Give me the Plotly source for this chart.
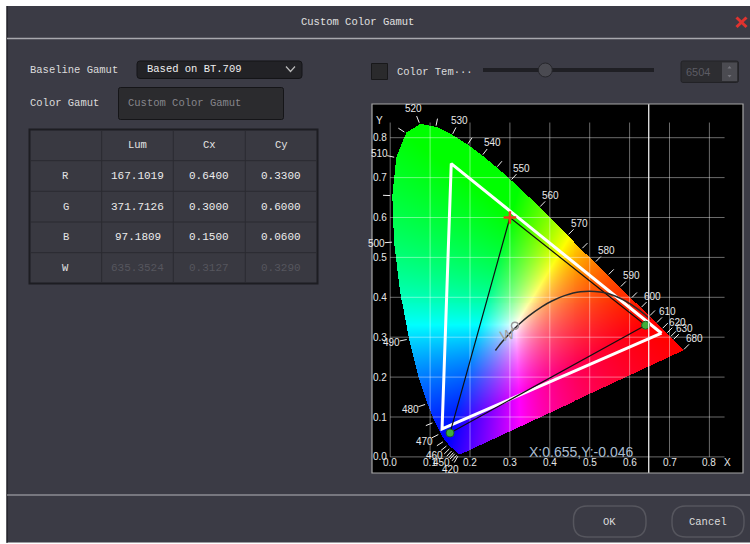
import numpy as np
import plotly.graph_objects as go

# ---------------- data ----------------
wavelengths = list(range(380, 705, 5))
locus_x = [0.1741, 0.1740, 0.1738, 0.1736, 0.1733, 0.1730, 0.1726, 0.1721, 0.1714, 0.1703,
           0.1689, 0.1669, 0.1644, 0.1611, 0.1566, 0.1510, 0.1440, 0.1355, 0.1241, 0.1096,
           0.0913, 0.0687, 0.0454, 0.0235, 0.0082, 0.0039, 0.0139, 0.0389, 0.0743, 0.1142,
           0.1547, 0.1929, 0.2296, 0.2658, 0.3016, 0.3373, 0.3731, 0.4087, 0.4441, 0.4788,
           0.5125, 0.5448, 0.5752, 0.6029, 0.6270, 0.6482, 0.6658, 0.6801, 0.6915, 0.7006,
           0.7079, 0.7140, 0.7190, 0.7230, 0.7260, 0.7283, 0.7300, 0.7311, 0.7320, 0.7327,
           0.7334, 0.7340, 0.7344, 0.7346, 0.7347]
locus_y = [0.0050, 0.0050, 0.0049, 0.0049, 0.0048, 0.0048, 0.0048, 0.0048, 0.0051, 0.0058,
           0.0069, 0.0086, 0.0109, 0.0138, 0.0177, 0.0227, 0.0297, 0.0399, 0.0578, 0.0868,
           0.1327, 0.2007, 0.2950, 0.4127, 0.5384, 0.6548, 0.7502, 0.8120, 0.8338, 0.8262,
           0.8059, 0.7816, 0.7543, 0.7243, 0.6923, 0.6589, 0.6245, 0.5896, 0.5547, 0.5202,
           0.4866, 0.4544, 0.4242, 0.3965, 0.3725, 0.3514, 0.3340, 0.3197, 0.3083, 0.2993,
           0.2920, 0.2859, 0.2809, 0.2770, 0.2740, 0.2717, 0.2700, 0.2689, 0.2680, 0.2673,
           0.2666, 0.2660, 0.2656, 0.2654, 0.2653]

label_wl = [420, 450, 460, 470, 480, 490, 500, 510, 520, 530, 540, 550, 560,
            570, 580, 590, 600, 610, 620, 630, 680]
tick_wl = [420, 430, 440, 445, 450, 455, 460, 465, 470, 475, 480, 490, 500, 505, 510, 515,
           520, 525, 530, 535, 540, 545, 550, 560, 570, 575, 580, 585, 590, 595,
           600, 605, 610, 615, 620, 625, 630, 680]

planck_x = [0.2637, 0.2719, 0.2807, 0.2952, 0.3064, 0.3135, 0.3221, 0.3451, 0.3805,
            0.4053, 0.4369, 0.4770, 0.5267, 0.5498, 0.5857, 0.6251, 0.6528]
planck_y = [0.2666, 0.2776, 0.2884, 0.3048, 0.3166, 0.3236, 0.3318, 0.3516, 0.3768,
            0.3907, 0.4041, 0.4137, 0.4133, 0.4081, 0.3931, 0.3674, 0.3444]

prim_names = ["R", "G", "B"]
target_x = [0.6400, 0.3000, 0.1500]
target_y = [0.3300, 0.6000, 0.0600]
panel_x = [0.680, 0.153, 0.130]
panel_y = [0.310, 0.735, 0.070]
white_x, white_y = 0.3127, 0.3290
cursor_x = 0.648
cursor_text = "X:0.655,Y:-0.046"

axis_ticks = [0.0, 0.1, 0.2, 0.3, 0.4, 0.5, 0.6, 0.7, 0.8]
axis_tick_labels = ["0.0", "0.1", "0.2", "0.3", "0.4", "0.5", "0.6", "0.7", "0.8"]

table_rows = ["R", "G", "B", "W"]
table_cols = ["Lum", "Cx", "Cy"]
lum_vals = ["167.1019", "371.7126", "97.1809", "635.3524"]
cx_vals = ["0.6400", "0.3000", "0.1500", "0.3127"]
cy_vals = ["0.3300", "0.6000", "0.0600", "0.3290"]

baseline_option = "Based on BT.709"
gamut_name = "Custom Color Gamut"
color_temp = "6504"

# ---------------- helpers ----------------
W, H = 750, 544
MONO = "Liberation Mono, DejaVu Sans Mono, monospace"
SANS = "Liberation Sans, Arial, sans-serif"
BG = "#3b3b45"


def PX(x):
    return x / W


def PY(y):
    return 1 - y / H


shapes = []
annots = []


def rect(x0, y0, x1, y1, fill=None, line=None, lw=1, layer="below"):
    shapes.append(dict(type="rect", xref="paper", yref="paper",
                       x0=PX(x0), x1=PX(x1), y0=PY(y1), y1=PY(y0),
                       fillcolor=fill if fill else "rgba(0,0,0,0)",
                       line=dict(color=line if line else "rgba(0,0,0,0)", width=lw if line else 0),
                       layer=layer))


def hline(x0, x1, y, color, lw=1, layer="below"):
    shapes.append(dict(type="line", xref="paper", yref="paper", x0=PX(x0), x1=PX(x1),
                       y0=PY(y), y1=PY(y), line=dict(color=color, width=lw), layer=layer))


def seg(x0, y0, x1, y1, color, lw=1, layer="below"):
    shapes.append(dict(type="line", xref="paper", yref="paper", x0=PX(x0), x1=PX(x1),
                       y0=PY(y0), y1=PY(y1), line=dict(color=color, width=lw), layer=layer))


def rrect(x0, y0, x1, y1, r, line, lw=1, fill=None):
    pts = lambda x, y: f"{PX(x):.5f},{PY(y):.5f}"
    p = (f"M {pts(x0 + r, y0)} L {pts(x1 - r, y0)} Q {pts(x1, y0)} {pts(x1, y0 + r)} "
         f"L {pts(x1, y1 - r)} Q {pts(x1, y1)} {pts(x1 - r, y1)} L {pts(x0 + r, y1)} "
         f"Q {pts(x0, y1)} {pts(x0, y1 - r)} L {pts(x0, y0 + r)} Q {pts(x0, y0)} {pts(x0 + r, y0)} Z")
    shapes.append(dict(type="path", xref="paper", yref="paper", path=p,
                       fillcolor=fill if fill else "rgba(0,0,0,0)",
                       line=dict(color=line, width=lw), layer="below"))


def txt(x, y, s, size=10.5, color="#dcdcdc", anchor="left", family=MONO):
    annots.append(dict(xref="paper", yref="paper", x=PX(x), y=PY(y), text=s, showarrow=False,
                       xanchor=anchor, yanchor="middle",
                       font=dict(family=family, size=size, color=color)))


def dtxt(x, y, s, size=10, color="#e8e8e8", anchor="center", angle=0):
    annots.append(dict(xref="x", yref="y", x=x, y=y, text=s, showarrow=False,
                       xanchor=anchor, yanchor="middle", textangle=angle,
                       font=dict(family=SANS, size=size, color=color)))


# ---------------- dialog chrome ----------------
rect(0, 0, 750, 6, fill="#ffffff")
rect(0, 0, 6.5, 544, fill="#ffffff")
rect(0, 542.5, 750, 544, fill="#ffffff")
seg(7, 6, 7, 543, "#15151a", 1)
txt(357, 22, "Custom Color Gamut", size=10.5, color="#e0e0e0", anchor="center")
seg(736.5, 17.5, 746.5, 27, "#e0332f", 3)
seg(736.5, 27, 746.5, 17.5, "#e0332f", 3)
hline(7, 750, 38.5, "#a8a8ae", 1.5)
hline(7, 750, 495, "#b4b4ba", 1)

# left controls
txt(28, 70, "Baseline Gamut")
rrect(137, 61, 302, 78.5, 3, "#151518", 1, fill="#222226")
txt(145, 69.5, baseline_option, color="#f0f0f0")
shapes.append(dict(type="path", xref="paper", yref="paper",
                   path=f"M {PX(286)},{PY(66.5)} L {PX(290.5)},{PY(71.5)} L {PX(295)},{PY(66.5)}",
                   line=dict(color="#bbbbbb", width=1.2), layer="below"))
txt(28, 103.5, "Color Gamut")
rrect(118.5, 87.5, 283.5, 119.5, 2, "#151518", 1, fill="#2b2b2e")
txt(126, 103.5, gamut_name, color="#86868c")

# table
tx = [29.5, 101.7, 173.3, 245.3, 317.5]
ty = [129.5, 160.7, 191.3, 222.0, 252.7, 283.5]
rect(tx[0], ty[0], tx[-1], ty[-1], fill="#393941", line="#1d1d22", lw=2)
for xv in tx[1:-1]:
    seg(xv, ty[0] + 1, xv, ty[-1] - 1, "#2b2b31", 1)
for yv in ty[1:-1]:
    hline(tx[0] + 1, tx[-1] - 1, yv, "#2b2b31", 1)
for j, c in enumerate(table_cols):
    txt((tx[j + 1] + tx[j + 2]) / 2, (ty[0] + ty[1]) / 2, c, color="#e4e4e4", anchor="center")
cols = [lum_vals, cx_vals, cy_vals]
for i, rname in enumerate(table_rows):
    yc = (ty[i + 1] + ty[i + 2]) / 2
    txt((tx[0] + tx[1]) / 2, yc, rname, color="#e4e4e4", anchor="center")
    for j in range(3):
        col = "#56565e" if rname == "W" else "#ececec"
        txt((tx[j + 1] + tx[j + 2]) / 2, yc, cols[j][i], color=col, anchor="center", size=11)

# right controls
rect(371.5, 63.5, 387.5, 79.5, fill="#2a2a2c", line="#18181a", lw=1)
txt(395, 71.5, "Color Tem\u00b7\u00b7\u00b7", color="#dcdcdc")
seg(483, 70, 654, 70, "#1f1f24", 4)
shapes.append(dict(type="circle", xref="paper", yref="paper",
                   x0=PX(538.3), x1=PX(552.3), y0=PY(77), y1=PY(63),
                   fillcolor="#4a4a51", line=dict(color="#26262b", width=1), layer="below"))
rrect(681, 61, 738.5, 82.5, 2, "#232327", 1, fill="#2d2d31")
rect(722, 62.5, 737, 81, fill="#4b4b51")
txt(684, 71.5, color_temp, size=11, color="#5c5c64", family=SANS)
shapes.append(dict(type="path", xref="paper", yref="paper",
                   path=f"M {PX(727.5)},{PY(68.5)} L {PX(729.5)},{PY(66)} L {PX(731.5)},{PY(68.5)} Z",
                   fillcolor="#75757c", line=dict(width=0), layer="below"))
shapes.append(dict(type="path", xref="paper", yref="paper",
                   path=f"M {PX(727.5)},{PY(75)} L {PX(729.5)},{PY(77.5)} L {PX(731.5)},{PY(75)} Z",
                   fillcolor="#75757c", line=dict(width=0), layer="below"))

# buttons
rrect(573.5, 506, 646, 537, 14, "#56565e", 1.5)
txt(609.5, 521.5, "OK", color="#dcdcdc", anchor="center")
rrect(672, 506, 744, 537, 14, "#56565e", 1.5)
txt(708, 521.5, "Cancel", color="#dcdcdc", anchor="center")

# ---------------- chromaticity chart ----------------
BOX = (372, 104, 743, 473)
PPU = 399.0
X0P, Y0P = 390.2, 456.9
xr = [(BOX[0] - X0P) / PPU, (BOX[2] - X0P) / PPU]
yr = [(Y0P - BOX[3]) / PPU, (Y0P - BOX[1]) / PPU]

lx = np.array(locus_x)
ly = np.array(locus_y)

step = 0.0025
gx = np.arange(xr[0] - step, xr[1] + step, step)
gy = np.arange(yr[0] - step, yr[1] + step, step)
GX, GY = np.meshgrid(gx, gy)
inside = np.zeros(GX.shape, dtype=bool)
n = len(lx)
j = n - 1
with np.errstate(divide="ignore", invalid="ignore"):
    for i in range(n):
        xi, yi, xj, yj = lx[i], ly[i], lx[j], ly[j]
        if yi != yj:
            cond = ((yi > GY) != (yj > GY)) & (GX < (xj - xi) * (GY - yi) / (yj - yi) + xi)
            inside ^= cond
        j = i
    yy = np.maximum(GY, 1e-4)
    Xc = GX / yy
    Yc = np.ones_like(GX)
    Zc = (1 - GX - GY) / yy
    r = 3.2406 * Xc - 1.5372 * Yc - 0.4986 * Zc
    g = -0.9689 * Xc + 1.8758 * Yc + 0.0415 * Zc
    b = 0.0557 * Xc - 0.2040 * Yc + 1.0570 * Zc
    rgb = np.clip(np.stack([r, g, b], axis=-1), 0, None)
    mx = rgb.max(axis=-1, keepdims=True)
    rgb = np.where(mx > 0, rgb / np.maximum(mx, 1e-9), 0)
    rgb = rgb ** 0.9
img = (rgb * 255).astype(np.uint8)
img[~inside] = 0

fig = go.Figure()
fig.add_trace(go.Image(z=img, x0=gx[0], dx=step, y0=gy[0], dy=step,
                       colormodel="rgb", hoverinfo="skip"))

# grid
gxs, gys = [], []
gmax = 0.838
for v in axis_ticks:
    gxs += [v, v, None]
    gys += [0, gmax, None]
    gxs += [0, gmax, None]
    gys += [v, v, None]
fig.add_trace(go.Scatter(x=gxs, y=gys, mode="lines", hoverinfo="skip",
                         line=dict(color="rgba(255,255,255,0.42)", width=1)))

# wavelength ticks and labels
wl_arr = np.array(wavelengths)


def normal_at(w):
    k = int(np.where(wl_arr == w)[0][0])
    a = max(k - 2, 0)
    c = min(k + 2, n - 1)
    dx_, dy_ = lx[c] - lx[a], ly[c] - ly[a]
    nx, ny = -dy_, dx_
    L = np.hypot(nx, ny)
    return lx[k], ly[k], nx / L, ny / L


txs, tys = [], []
for w in tick_wl:
    px_, py_, nx, ny = normal_at(w)
    txs += [px_ + 0.004 * nx, px_ + 0.022 * nx, None]
    tys += [py_ + 0.004 * ny, py_ + 0.022 * ny, None]
fig.add_trace(go.Scatter(x=txs, y=tys, mode="lines", hoverinfo="skip",
                         line=dict(color="#f0f0f0", width=1)))
for w in label_wl:
    px_, py_, nx, ny = normal_at(w)
    dtxt(px_ + 0.042 * nx, py_ + 0.042 * ny, str(w))

# gamut triangles
fig.add_trace(go.Scatter(x=panel_x + [panel_x[0]], y=panel_y + [panel_y[0]], mode="lines",
                         hoverinfo="skip", line=dict(color="#ffffff", width=3)))
fig.add_trace(go.Scatter(x=target_x + [target_x[0]], y=target_y + [target_y[0]], mode="lines",
                         hoverinfo="skip", line=dict(color="#101010", width=1.2)))
# planckian locus
fig.add_trace(go.Scatter(x=planck_x, y=planck_y, mode="lines", hoverinfo="skip",
                         line=dict(color="#2a2a2a", width=1.5, shape="spline")))
# primaries
fig.add_trace(go.Scatter(x=[target_x[0], target_x[2]], y=[target_y[0], target_y[2]],
                         mode="markers", hoverinfo="skip",
                         marker=dict(symbol="circle", size=8, color="#3fae3a",
                                     line=dict(color="#1f5f1f", width=1))))
fig.add_trace(go.Scatter(x=[target_x[1]], y=[target_y[1]], mode="markers", hoverinfo="skip",
                         marker=dict(symbol="cross-thin", size=9,
                                     line=dict(color="#e8401c", width=2.5))))
# white point
fig.add_trace(go.Scatter(x=[white_x], y=[white_y], mode="markers", hoverinfo="skip",
                         marker=dict(symbol="circle-open", size=7, color="#9a9a9a",
                                     line=dict(color="#9a9a9a", width=1.5))))
dtxt(white_x - 0.018, white_y - 0.022, "W", size=15, color="#a0a0a0", angle=-15)

# axis labels
for v, s in zip(axis_ticks, axis_tick_labels):
    dtxt(v, -0.0145, s, color="#e6e6e6")
    dtxt(-0.004, v, s, color="#e6e6e6", anchor="right")
dtxt(0.846, -0.0145, "X", color="#e6e6e6")
dtxt(-0.027, 0.842, "Y", color="#e6e6e6")
dtxt(0.48, 0.013, cursor_text, size=14, color="#a9bccf")

# cursor line and plot border
shapes.append(dict(type="line", xref="x", yref="y domain", x0=cursor_x, x1=cursor_x, y0=0, y1=1,
                   line=dict(color="#ffffff", width=1.2), layer="above"))
rect(BOX[0], BOX[1], BOX[2], BOX[3], line="#a6a6a6", lw=1.2, layer="above")

fig.update_layout(
    width=W, height=H, autosize=False,
    margin=dict(l=0, r=0, t=0, b=0),
    paper_bgcolor=BG, plot_bgcolor="#000000",
    showlegend=False,
    xaxis=dict(domain=[BOX[0] / W, BOX[2] / W], range=xr, visible=False,
               showgrid=False, zeroline=False, fixedrange=True),
    yaxis=dict(domain=[1 - BOX[3] / H, 1 - BOX[1] / H], range=yr, visible=False,
               showgrid=False, zeroline=False, fixedrange=True, autorange=False),
    shapes=shapes, annotations=annots,
)

fig.write_html("out.html", config={"displayModeBar": False},
               post_script="document.body.style.margin='0';document.body.style.overflow='hidden';")
